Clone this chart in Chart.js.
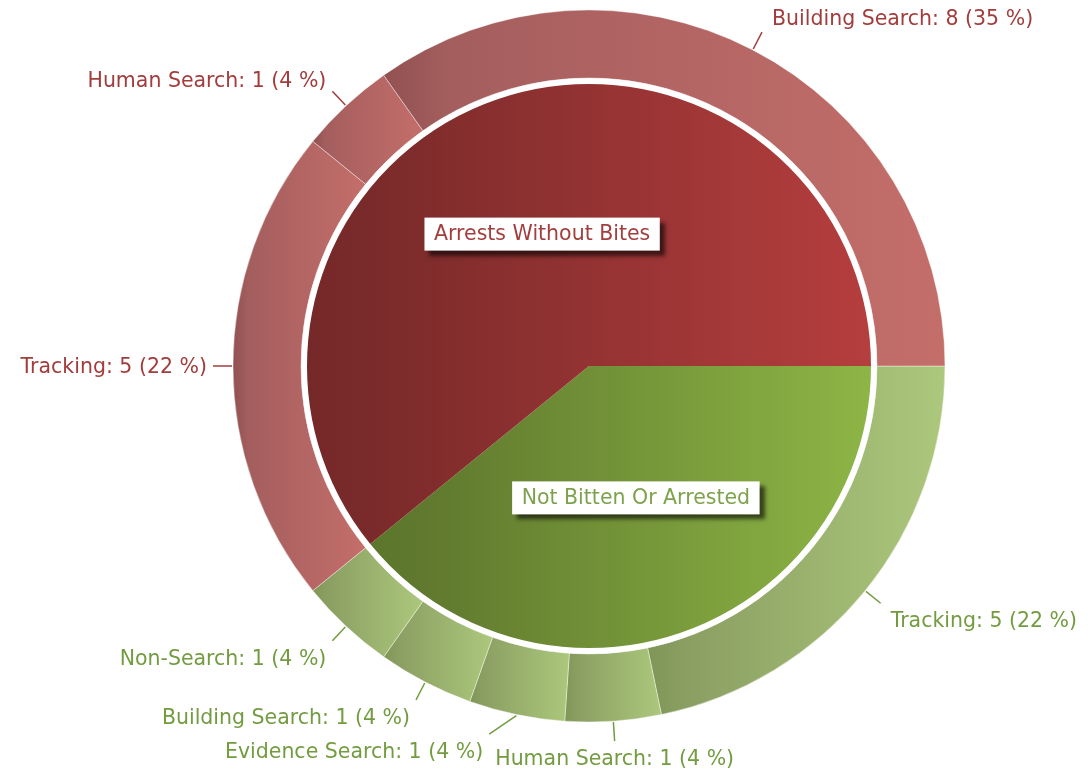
<!DOCTYPE html>
<html>
<head>
<meta charset="utf-8">
<script src="https://cdn.jsdelivr.net/npm/chart.js@4.4.1/dist/chart.umd.min.js"></script>
<style>
  html, body { margin: 0; padding: 0; background: #fff; }
  #wrap { width: 1091px; height: 778px; position: relative; }
</style>
</head>
<body>
<div id="wrap"><canvas id="chart"></canvas></div>
<script>
// inner pie: outcome groups (clockwise from 3 o'clock)
const groupLabels = ['Not Bitten Or Arrested', 'Arrests Without Bites'];
const groupValues = [9, 14];

// outer ring: deployment type inside each group, same order
const typeLabels = ['Tracking', 'Human Search', 'Evidence Search', 'Building Search', 'Non-Search',
                    'Tracking', 'Human Search', 'Building Search'];
const typeValues = [5, 1, 1, 1, 1, 5, 1, 8];
const typeGroup = [0, 0, 0, 0, 0, 1, 1, 1];

// gradient stops per group: [dark left, near-left, light right]
const pieColors = [['#5b762b', '#60792e', '#8eb646'], ['#752828', '#7a2a2a', '#b63e3e']];
const ringColors = [['#7e9656', '#8a9e62', '#acc87c'], ['#925151', '#a45e5e', '#c46e6a']];
const textColors = ['#739c40', '#a33c3c'];
const boxTextColors = ['#7ea24c', '#a33e3e'];

const FONT = '20.5px "DejaVu Sans", Verdana, sans-serif';
const total = typeValues.reduce((a, b) => a + b, 0);

// horizontal gradient across the slice's own bounding box
function sliceGradient(c, stops) {
    const el = c.element;
    if (!el || el.x === undefined || isNaN(el.x) || el.outerRadius === undefined) return stops[2];
    const { x, startAngle, endAngle, innerRadius, outerRadius } = el;
    let minX = Infinity, maxX = -Infinity;
    for (let i = 0; i <= 60; i++) {
        const a = startAngle + (endAngle - startAngle) * i / 60;
        for (const r of [innerRadius, outerRadius]) {
            const px = x + Math.cos(a) * r;
            minX = Math.min(minX, px);
            maxX = Math.max(maxX, px);
        }
    }
    if (!(maxX > minX)) return stops[2];
    const g = c.chart.ctx.createLinearGradient(minX, 0, maxX, 0);
    g.addColorStop(0, stops[0]);
    g.addColorStop(0.12, stops[1]);
    g.addColorStop(1, stops[2]);
    return g;
}

const labelPlugin = {
    id: 'sliceLabels',
    afterDatasetsDraw(chart) {
        const ctx = chart.ctx;
        const ring = chart.getDatasetMeta(0);
        const pie = chart.getDatasetMeta(1);
        const cx = pie.data[0].x, cy = pie.data[0].y;
        const pieR = pie.data[0].outerRadius;

        ctx.save();
        // white gap between pie and ring
        ctx.beginPath();
        ctx.arc(cx, cy, pieR - 3, 0, Math.PI * 2);
        ctx.lineWidth = 6;
        ctx.strokeStyle = '#fff';
        ctx.stroke();

        ctx.font = FONT;
        ctx.textBaseline = 'middle';

        // outer labels with leader lines
        const items = ring.data.map((arc, i) => {
            const mid = (arc.startAngle + arc.endAngle) / 2;
            const dx = Math.cos(mid), dy = Math.sin(mid);
            const R = arc.outerRadius;
            const text = `${typeLabels[i]}: ${typeValues[i]} (${Math.round(typeValues[i] / total * 100)} %)`;
            const w = ctx.measureText(text).width;
            const ex = cx + dx * (R + 20), ey = cy + dy * (R + 20);
            const align = Math.abs(dx) < 0.1 ? 'center' : (dx > 0 ? 'left' : 'right');
            const tx = align === 'center' ? ex : ex + (dx > 0 ? 10 : -6);
            const ty = ey + (dy > 0 ? 2 + 17 * Math.min(1, dy * 1.5) : 2 + dy * 16);
            const left = align === 'left' ? tx : align === 'right' ? tx - w : tx - w / 2;
            return { i, dx, dy, R, text, w, ex, ey, align, tx, ty, left };
        });
        // push overlapping side labels away from their neighbour
        for (const a of items) {
            if (a.align === 'center') continue;
            for (const b of items) {
                if (a === b || Math.abs(a.ty - b.ty) > 22) continue;
                if (a.align === 'right' && a.left < b.left && a.left + a.w > b.left - 8) {
                    const s = a.left + a.w - b.left + 12;
                    a.left -= s; a.tx -= s; a.ex -= s;
                } else if (a.align === 'left' && a.left > b.left && b.left + b.w > a.left - 8) {
                    const s = b.left + b.w - a.left + 12;
                    a.left += s; a.tx += s; a.ex += s;
                }
            }
        }
        items.forEach(it => {
            const col = textColors[typeGroup[it.i]];
            ctx.beginPath();
            ctx.moveTo(cx + it.dx * (it.R + 1), cy + it.dy * (it.R + 1));
            ctx.lineTo(it.ex, it.ey);
            ctx.lineWidth = 1.5;
            ctx.strokeStyle = col;
            ctx.stroke();
            ctx.fillStyle = col;
            ctx.textAlign = it.align;
            ctx.fillText(it.text, it.tx, it.ty);
        });

        // boxed labels inside the pie
        pie.data.forEach((arc, i) => {
            const mid = (arc.startAngle + arc.endAngle) / 2;
            const r = arc.outerRadius * 0.486;
            const x = cx + Math.cos(mid) * r, y = cy + Math.sin(mid) * r;
            const w = ctx.measureText(groupLabels[i]).width + 19, h = 33;
            ctx.save();
            ctx.shadowColor = 'rgba(0,0,0,0.6)';
            ctx.shadowBlur = 4;
            ctx.shadowOffsetX = 5;
            ctx.shadowOffsetY = 5;
            ctx.fillStyle = '#fff';
            ctx.fillRect(x - w / 2, y - h / 2, w, h);
            ctx.restore();
            ctx.fillStyle = boxTextColors[i];
            ctx.textAlign = 'center';
            ctx.fillText(groupLabels[i], x, y + 1);
        });
        ctx.restore();
    }
};

const chart = new Chart(document.getElementById('chart'), {
    type: 'pie',
    data: {
        labels: typeLabels,
        datasets: [
            {
                data: typeValues,
                weight: 68,
                backgroundColor: c => sliceGradient(c, ringColors[typeGroup[c.dataIndex] ?? 1]),
                borderColor: 'rgba(255,255,255,0.4)',
                borderWidth: 1
            },
            {
                data: groupValues,
                weight: 288,
                backgroundColor: c => sliceGradient(c, pieColors[c.dataIndex ?? 1]),
                borderWidth: 0
            }
        ]
    },
    options: {
        responsive: true,
        maintainAspectRatio: false,
        animation: false,
        events: [],
        rotation: 90,
        radius: 356,
        cutout: 0,
        layout: { padding: { left: 87, right: 0, top: 0, bottom: 46 } },
        plugins: { legend: { display: false }, tooltip: { enabled: false } }
    },
    plugins: [labelPlugin]
});
// second pass so gradients can use the laid-out arcs
chart.update('none');
</script>
</body>
</html>
